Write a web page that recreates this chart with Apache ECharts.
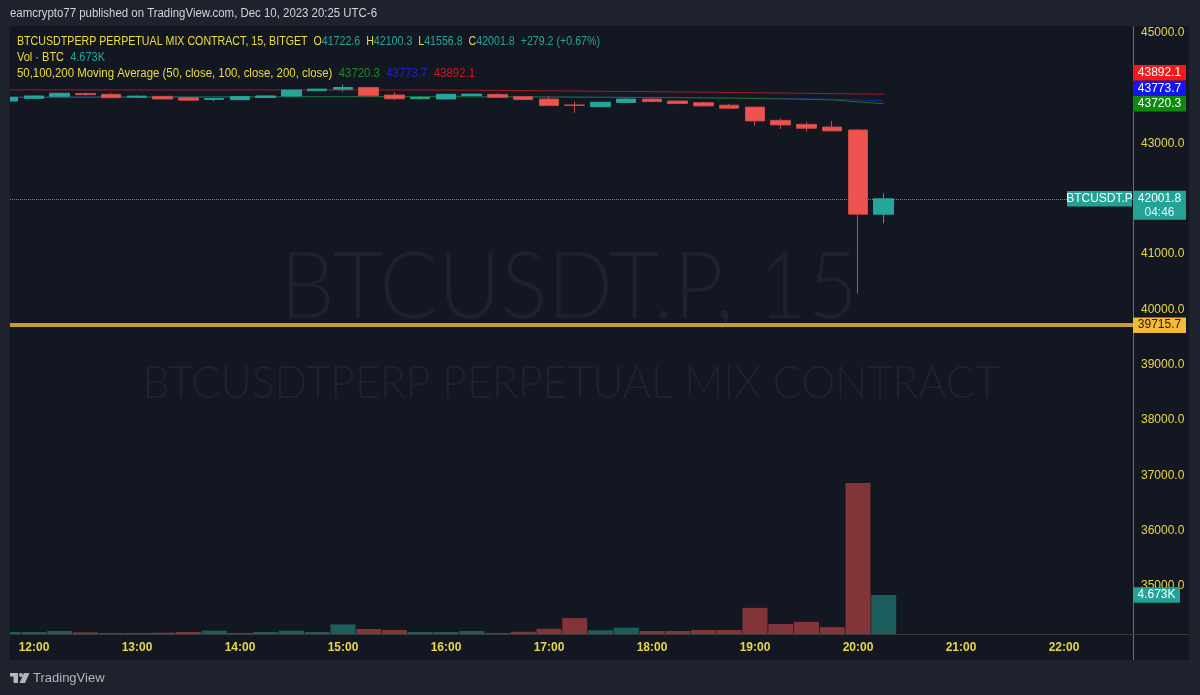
<!DOCTYPE html>
<html><head><meta charset="utf-8">
<script src="https://cdn.jsdelivr.net/npm/echarts@6/dist/echarts.min.js"></script>
<style>html,body{margin:0;padding:0;background:#1e222d;}#c{width:1200px;height:695px;}</style>
</head><body><div id="c"></div><script>
// ---- data ----
const times = ['11:45','12:00','12:15','12:30','12:45','13:00','13:15','13:30','13:45','14:00','14:15','14:30','14:45','15:00','15:15','15:30','15:45','16:00','16:15','16:30','16:45','17:00','17:15','17:30','17:45','18:00','18:15','18:30','18:45','19:00','19:15','19:30','19:45','20:00','20:15'];
const opens  = [43770,43819,43855,43905,43892,43840,43855,43830,43800,43794,43835,43861,43958,43985,44015,43879,43812,43807,43870,43890,43849,43805,43700,43667,43745,43805,43770,43740,43695,43660,43420,43348,43300,43246,41722.6];
const closes = [43837,43861,43910,43885,43830,43858,43807,43785,43815,43849,43862,43969,43985,44015,43866,43810,43835,43892,43895,43838,43796,43687,43690,43747,43805,43760,43724,43682,43640,43410,43338,43278,43230,41722.6,42001.8];
const lows   = [43765,43815,43850,43870,43819,43825,43800,43780,43765,43790,43830,43858,43950,43939,43843,43788,43800,43800,43865,43832,43790,43682,43560,43660,43735,43755,43718,43676,43630,43325,43264,43215,43220,40290,41556.8];
const highs  = [43842,43866,43915,43925,43921,43870,43860,43835,43825,43855,43868,43972,43992,44072,44020,43928,43860,43897,43900,43915,43855,43855,43760,43752,43825,43825,43785,43760,43718,43665,43457,43396,43410,43265,42100.3];
const volumesK = [0.24,0.24,0.36,0.2,0.12,0.12,0.16,0.24,0.4,0.12,0.24,0.4,0.24,1.15,0.6,0.48,0.24,0.24,0.36,0.12,0.27,0.63,1.9,0.44,0.75,0.36,0.36,0.48,0.48,3.13,1.19,1.46,0.83,18.1,4.673];
const ma200 = [43972,43972,43971,43971,43971,43970,43970,43970,43970,43970,43970,43970,43970,43970,43970,43969,43969,43968,43965,43962,43959,43955,43951,43947,43943,43939,43934,43930,43925,43920,43915,43910,43904,43898,43892.1];
const ma100 = [43842,43842,43843,43843,43844,43844,43845,43845,43846,43846,43847,43847,43848,43848,43849,43849,43849,43848,43847,43846,43845,43844,43842,43840,43838,43836,43833,43830,43826,43822,43817,43811,43801,43789,43773.7];
const ma50  = [43836,43837,43838,43839,43840,43841,43842,43843,43844,43845,43846,43847,43848,43849,43850,43850,43850,43849,43847,43846,43845,43843,43841,43839,43836,43833,43830,43826,43821,43815,43808,43800,43790,43755,43720.3];
const timeTicks = ['12:00','13:00','14:00','15:00','16:00','17:00','18:00','19:00','20:00','21:00','22:00'];
const priceTicks = [35000,36000,37000,38000,39000,40000,41000,43000,45000];
const horizLevel = 39715.7;
const changeAbs = '+279.2', changePct = '(+0.67%)', countdown = '04:46';

// ---- helpers ----
const UP = '#26a69a', DOWN = '#ef5350';
const UPV = 'rgba(38,166,154,0.5)', DOWNV = 'rgba(239,83,80,0.5)';
const YEL = '#e9d64a';
const FONT = "'Liberation Sans', Arial, sans-serif";
function toIdx(t){ const p = t.split(':').map(Number); return (p[0]*60 + p[1] - 720) / 15; }
const tickMap = {}; timeTicks.forEach(t => tickMap[toIdx(t)] = t);
const last = times.length - 1;
const cv = document.createElement('canvas').getContext('2d');
function measure(text, font){ cv.font = font; return cv.measureText(text).width; }

const chart = echarts.init(document.getElementById('c'));
const option = {
  animation: false,
  backgroundColor: '#131722',
  grid: { left: 10, right: 67, top: 26, bottom: 61 },
  xAxis: {
    type: 'value', min: -0.932, max: 42.68,
    axisLine: { show: false }, axisTick: { show: false }, splitLine: { show: false },
    axisLabel: { customValues: timeTicks.map(toIdx), formatter: v => tickMap[v] || '',
      color: YEL, fontWeight: 'bold', fontSize: 12, fontFamily: FONT, margin: 8 }
  },
  yAxis: [{
    type: 'value', position: 'right', min: 34130, max: 45127,
    axisLine: { show: false }, axisTick: { show: false }, splitLine: { show: false },
    axisLabel: { customValues: priceTicks, formatter: v => v.toFixed(1),
      color: YEL, fontSize: 12, fontFamily: FONT, margin: 8 }
  }, {
    type: 'value', min: 0, max: 72.85, show: false
  }],
  series: [{
    type: 'bar', xAxisIndex: 0, yAxisIndex: 1, barWidth: 25, z: 1, silent: true,
    data: times.map((t, i) => ({ value: [toIdx(t), volumesK[i]], itemStyle: { color: closes[i] >= opens[i] ? UPV : DOWNV } }))
  }, {
    type: 'line', yAxisIndex: 0, symbol: 'none', z: 2, silent: true,
    lineStyle: { width: 1, color: '#a01c24' }, data: times.map((t, i) => [toIdx(t), ma200[i]])
  }, {
    type: 'line', yAxisIndex: 0, symbol: 'none', z: 2, silent: true,
    lineStyle: { width: 1, color: '#1f2ea0' }, data: times.map((t, i) => [toIdx(t), ma100[i]])
  }, {
    type: 'line', yAxisIndex: 0, symbol: 'none', z: 2, silent: true,
    lineStyle: { width: 1, color: '#1c6e2a' }, data: times.map((t, i) => [toIdx(t), ma50[i]])
  }, {
    type: 'candlestick', yAxisIndex: 0, barWidth: 20, z: 3, silent: true,
    itemStyle: { color: UP, color0: DOWN, borderColor: UP, borderColor0: '#c94a4a', borderWidth: 1 },
    data: times.map((t, i) => [toIdx(t), opens[i], closes[i], lows[i], highs[i]]),
    markLine: {
      silent: true, symbol: ['none', 'none'], label: { show: false }, animation: false,
      data: [
        { yAxis: closes[last], lineStyle: { type: 'dotted', color: UP, width: 1 } },
        { yAxis: horizLevel, lineStyle: { type: 'solid', color: '#c99a32', width: 4 } }
      ]
    }
  }]
};
chart.setOption(option);

// ---- overlays ----
const py = v => chart.convertToPixel({ yAxisIndex: 0 }, v);
const vy = v => chart.convertToPixel({ yAxisIndex: 1 }, v);
const AX = 1133;
function box(x, yc, w, h, bg, text, color){
  return [{ type: 'rect', z: 100, shape: { x: x, y: yc - h / 2, width: w, height: h }, style: { fill: bg } },
    { type: 'text', z: 101, x: x + w / 2, y: yc, style: { text: text, fill: color, font: '12px ' + FONT, textAlign: 'center', textVerticalAlign: 'middle' } }];
}
const g = [];
// outer frame
g.push({ type: 'rect', z: 90, shape: { x: 0, y: 0, width: 1200, height: 26 }, style: { fill: '#1e222d' } });
g.push({ type: 'rect', z: 90, shape: { x: 0, y: 0, width: 10, height: 695 }, style: { fill: '#1e222d' } });
g.push({ type: 'rect', z: 90, shape: { x: 1189, y: 0, width: 11, height: 695 }, style: { fill: '#1e222d' } });
g.push({ type: 'rect', z: 90, shape: { x: 0, y: 660, width: 1200, height: 35 }, style: { fill: '#1e222d' } });
// separators
g.push({ type: 'line', z: 95, shape: { x1: AX + 0.5, y1: 26, x2: AX + 0.5, y2: 660 }, style: { stroke: '#7d7040', lineWidth: 1 } });
g.push({ type: 'line', z: 95, shape: { x1: 10, y1: 634.5, x2: 1189, y2: 634.5 }, style: { stroke: '#3a3b36', lineWidth: 1 } });
// watermarks
const wm1 = 'BTCUSDT.P, 15';
const wmFont1 = '300 92px Lato, ' + FONT;
g.push({ type: 'text', z: 0, x: 569, y: 288, scaleX: 578 / measure(wm1, wmFont1),
  style: { text: wm1, font: wmFont1, fill: '#1d2130', textAlign: 'center', textVerticalAlign: 'middle' } });
const wm2 = 'BTCUSDTPERP PERPETUAL MIX CONTRACT';
const wmFont2 = '300 46px Lato, ' + FONT;
g.push({ type: 'text', z: 0, x: 571, y: 383, scaleX: 857 / measure(wm2, wmFont2),
  style: { text: wm2, font: wmFont2, fill: '#1f2331', textAlign: 'center', textVerticalAlign: 'middle' } });
// header
const hdr = 'eamcrypto77 published on TradingView.com, Dec 10, 2023 20:25 UTC-6';
const hFont = '12.5px ' + FONT;
g.push({ type: 'text', z: 96, x: 10, y: 14, scaleX: 367 / measure(hdr, hFont),
  style: { text: hdr, font: hFont, fill: '#d1d4dc', textAlign: 'left', textVerticalAlign: 'middle' } });
// legend
const lf = '12px ' + FONT;
const seg1 = [['y', 'BTCUSDTPERP PERPETUAL MIX CONTRACT, 15, BITGET  O'], ['t', opens[last].toFixed(1)], ['y', '  H'], ['t', highs[last].toFixed(1)],
  ['y', '  L'], ['t', lows[last].toFixed(1)], ['y', '  C'], ['t', closes[last].toFixed(1)], ['t', '  ' + changeAbs + ' ' + changePct]];
const seg2 = [['y', 'Vol · BTC'], ['t', '  ' + volumesK[last].toFixed(3) + 'K']];
const seg3 = [['y', '50,100,200 Moving Average (50, close, 100, close, 200, close)'], ['g', '  ' + ma50[last].toFixed(1)], ['b', '  ' + ma100[last].toFixed(1)], ['r', '  ' + ma200[last].toFixed(1)]];
const rich = { y: { fill: '#ecdf3c', font: lf }, t: { fill: UP, font: lf }, g: { fill: '#1f8a2a', font: lf }, b: { fill: '#2222c8', font: lf }, r: { fill: '#d0181f', font: lf } };
[[seg1, 42, 583], [seg2, 58, 88], [seg3, 74, 458]].forEach(([segs, y, w]) => {
  const plain = segs.map(s => s[1]).join('');
  g.push({ type: 'text', z: 96, x: 17, y: y, scaleX: w / measure(plain, lf),
    style: { text: segs.map(s => '{' + s[0] + '|' + s[1] + '}').join(''), rich: rich, font: lf, textAlign: 'left', textVerticalAlign: 'middle' } });
});
// MA labels stacked upward from the lowest
const H = 15.5;
const maLabs = [[ma50[last], '#0b8a0b'], [ma100[last], '#1515f0'], [ma200[last], '#f01a1a']];
let prevY = null;
maLabs.forEach(([v, c]) => {
  let y = py(v);
  if (prevY !== null && y > prevY - H) y = prevY - H;
  prevY = y;
  box(AX, y, 53, H, c, v.toFixed(1), '#ffffff').forEach(e => g.push(e));
});
// last price box (2 lines)
const lp = py(closes[last]);
g.push({ type: 'rect', z: 100, shape: { x: AX, y: lp - 8, width: 53, height: 29 }, style: { fill: '#22a396' } });
g.push({ type: 'text', z: 101, x: AX + 26.5, y: lp, style: { text: closes[last].toFixed(1), fill: '#fff', font: '12px ' + FONT, textAlign: 'center', textVerticalAlign: 'middle' } });
g.push({ type: 'text', z: 101, x: AX + 26.5, y: lp + 13.5, style: { text: countdown, fill: '#e6f4f2', font: '12px ' + FONT, textAlign: 'center', textVerticalAlign: 'middle' } });
box(1067, lp, 65, H, '#22a396', 'BTCUSDT.P', '#ffffff').forEach(e => g.push(e));
// horizontal level box
box(AX, py(horizLevel), 53, H, '#f5b93a', horizLevel.toFixed(1), '#2a2000').forEach(e => g.push(e));
// volume box
box(AX, vy(volumesK[last]), 47, H, '#22a396', volumesK[last].toFixed(3) + 'K', '#ffffff').forEach(e => g.push(e));
// TradingView logo
g.push({ type: 'rect', z: 96, shape: { x: 10, y: 673, width: 8, height: 3.5 }, style: { fill: '#b2b5be' } });
g.push({ type: 'rect', z: 96, shape: { x: 13.5, y: 673, width: 4.5, height: 10 }, style: { fill: '#b2b5be' } });
g.push({ type: 'circle', z: 96, shape: { cx: 21, cy: 675, r: 2 }, style: { fill: '#b2b5be' } });
g.push({ type: 'polygon', z: 96, shape: { points: [[24, 673], [29.5, 673], [25, 683], [19.5, 683]] }, style: { fill: '#b2b5be' } });
g.push({ type: 'text', z: 96, x: 33, y: 678, style: { text: 'TradingView', fill: '#b2b5be', font: '13px ' + FONT, textAlign: 'left', textVerticalAlign: 'middle' } });
chart.setOption({ graphic: g });
</script></body></html>
